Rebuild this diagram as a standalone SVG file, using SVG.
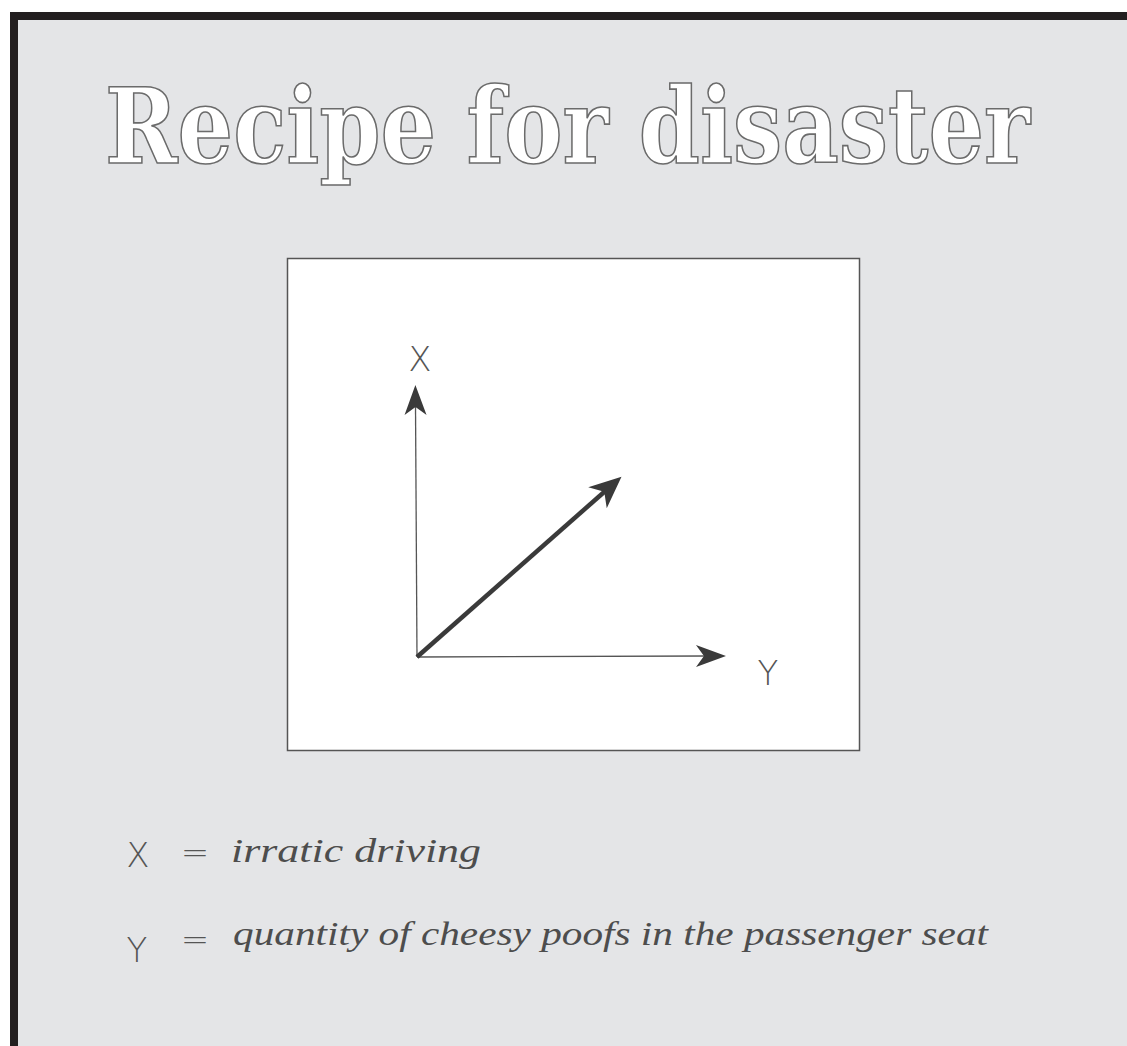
<svg xmlns="http://www.w3.org/2000/svg" width="1127" height="1046" viewBox="0 0 1127 1046">
  <style>
    .title { font-family: "DejaVu Serif Condensed", "DejaVu Serif", serif; font-weight: bold; font-size: 104px; fill: #ffffff; stroke: #6b6b6b; stroke-width: 1.6; }
    .axislbl { font-family: "DejaVu Sans", "Liberation Sans", sans-serif; font-weight: 200; font-size: 34px; fill: #555555; }
    .hand { font-family: "Liberation Serif", "DejaVu Serif", serif; font-style: italic; font-size: 34px; fill: #4d4d4d; }
    .eq { font-family: "DejaVu Sans", "Liberation Sans", sans-serif; font-weight: 200; font-size: 34px; fill: #555555; }
    .axis { stroke: #555555; stroke-width: 1.3; fill: none; }
    .vec { stroke: #3a3a3a; stroke-width: 4.5; fill: none; }
  </style>
  <defs>
    <marker id="headSmall" markerUnits="userSpaceOnUse" markerWidth="32" markerHeight="24" refX="10" refY="11" orient="auto" overflow="visible">
      <path d="M30,11 L0,0 L8,11 L0,22 Z" fill="#3a3a3a"/>
    </marker>
    <marker id="headBig" markerUnits="userSpaceOnUse" markerWidth="34" markerHeight="30" refX="10" refY="14" orient="auto" overflow="visible">
      <path d="M32,14 L0,0 L9,14 L0,28 Z" fill="#3a3a3a"/>
    </marker>
  </defs>

  <rect x="0" y="0" width="1127" height="1046" fill="#ffffff"/>
  <rect x="10" y="12" width="1117" height="1034" fill="#231f20"/>
  <rect x="18" y="20" width="1109" height="1026" fill="#e4e5e7"/>

  <g id="title">
    <text class="title" x="105" y="163" textLength="925" lengthAdjust="spacingAndGlyphs">Recipe for disaster</text>
  </g>

  <g id="chart">
    <rect x="287.5" y="258.5" width="572" height="492" fill="#ffffff" stroke="#555555" stroke-width="1.5"/>
  </g>

  <g id="connectors">
    <line class="axis" x1="417" y1="657" x2="415.5" y2="405" marker-end="url(#headSmall)"/>
    <line class="axis" x1="417" y1="657" x2="706" y2="656" marker-end="url(#headSmall)"/>
    <line class="vec" x1="417" y1="657" x2="605" y2="491.2" marker-end="url(#headBig)"/>
  </g>

  <g id="label-x">
    <text class="axislbl" x="420" y="371" text-anchor="middle">X</text>
  </g>
  <g id="label-y">
    <text class="axislbl" x="768" y="685" text-anchor="middle">Y</text>
  </g>

  <g id="legend">
    <text class="axislbl" x="138" y="867" text-anchor="middle">X</text>
    <text class="eq" x="195" y="864" text-anchor="middle">=</text>
    <text class="hand" x="231" y="862" textLength="250" lengthAdjust="spacingAndGlyphs">irratic driving</text>
    <text class="axislbl" x="137" y="962" text-anchor="middle">Y</text>
    <text class="eq" x="195" y="951" text-anchor="middle">=</text>
    <text class="hand" x="233" y="945" textLength="755" lengthAdjust="spacingAndGlyphs">quantity of cheesy poofs in the passenger seat</text>
  </g>
</svg>
